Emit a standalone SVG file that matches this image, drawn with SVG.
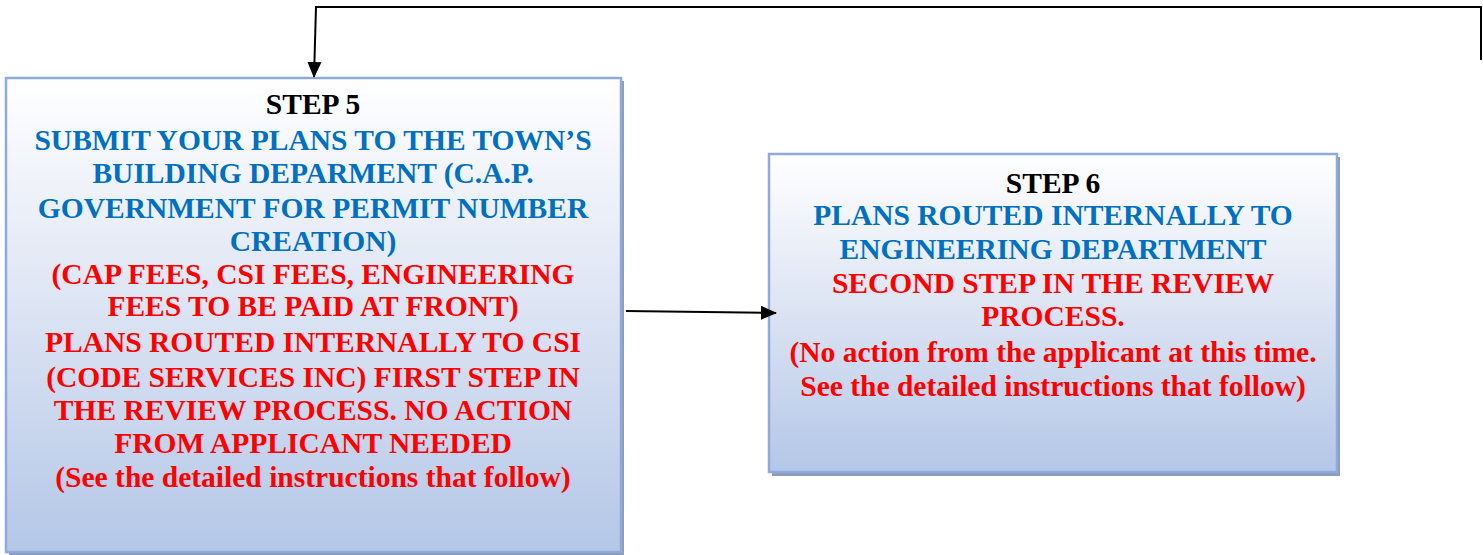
<svg xmlns="http://www.w3.org/2000/svg" width="1483" height="555" viewBox="0 0 1483 555">
<style>
.box{fill:url(#g);stroke:#8eaadb;stroke-width:2.5}
.sh{fill:#8c9dba}
text{font-family:"Liberation Serif","Times New Roman",serif;font-weight:bold;font-size:29.5px;text-anchor:middle}
.k{fill:#000}
.b{fill:#0070c0}
.r{fill:#ff0000}
.c{fill:none;stroke:#000;stroke-width:2}
</style>
<defs>
<linearGradient id="g" x1="0" y1="0" x2="0" y2="1">
<stop offset="0" stop-color="#ffffff"/>
<stop offset="0.45" stop-color="#dfe6f4"/>
<stop offset="1" stop-color="#b4c7e7"/>
</linearGradient>
<marker id="ah2" markerWidth="16" markerHeight="16" refX="15" refY="7" orient="auto" markerUnits="userSpaceOnUse" viewBox="0 0 16 14">
<path d="M0,0 L16,7 L0,14 Z" fill="#000"/>
</marker>
</defs>
<g id="step5">
<rect class="sh" x="9" y="81" width="615" height="476"/>
<rect class="box" x="6" y="78" width="615" height="474"/>
<text class="k" x="313" y="114">STEP 5</text>
<text class="b" x="313" y="150">SUBMIT YOUR PLANS TO THE TOWN’S</text>
<text class="b" x="313" y="183">BUILDING DEPARMENT (C.A.P.</text>
<text class="b" x="313" y="218">GOVERNMENT FOR PERMIT NUMBER</text>
<text class="b" x="313" y="251">CREATION)</text>
<text class="r" x="313" y="284">(CAP FEES, CSI FEES, ENGINEERING</text>
<text class="r" x="313" y="316">FEES TO BE PAID AT FRONT)</text>
<text class="r" x="313" y="352">PLANS ROUTED INTERNALLY TO CSI</text>
<text class="r" x="313" y="387">(CODE SERVICES INC) FIRST STEP IN</text>
<text class="r" x="313" y="420">THE REVIEW PROCESS. NO ACTION</text>
<text class="r" x="313" y="453">FROM APPLICANT NEEDED</text>
<text class="r" x="313" y="487">(See the detailed instructions that follow)</text>
</g>
<g id="step6">
<rect class="sh" x="772" y="157" width="568" height="319"/>
<rect class="box" x="769" y="154" width="568" height="318"/>
<text class="k" x="1053" y="193">STEP 6</text>
<text class="b" x="1053" y="225">PLANS ROUTED INTERNALLY TO</text>
<text class="b" x="1053" y="259">ENGINEERING DEPARTMENT</text>
<text class="r" x="1053" y="293">SECOND STEP IN THE REVIEW</text>
<text class="r" x="1053" y="326">PROCESS.</text>
<text class="r" x="1053" y="362">(No action from the applicant at this time.</text>
<text class="r" x="1053" y="396">See the detailed instructions that follow)</text>
</g>
<g id="connectors">
<polyline class="c" points="1481,60 1481,7 316,7 314,77" marker-end="url(#ah2)"/>
<line class="c" x1="626" y1="311" x2="776" y2="313" marker-end="url(#ah2)"/>
</g>
</svg>
